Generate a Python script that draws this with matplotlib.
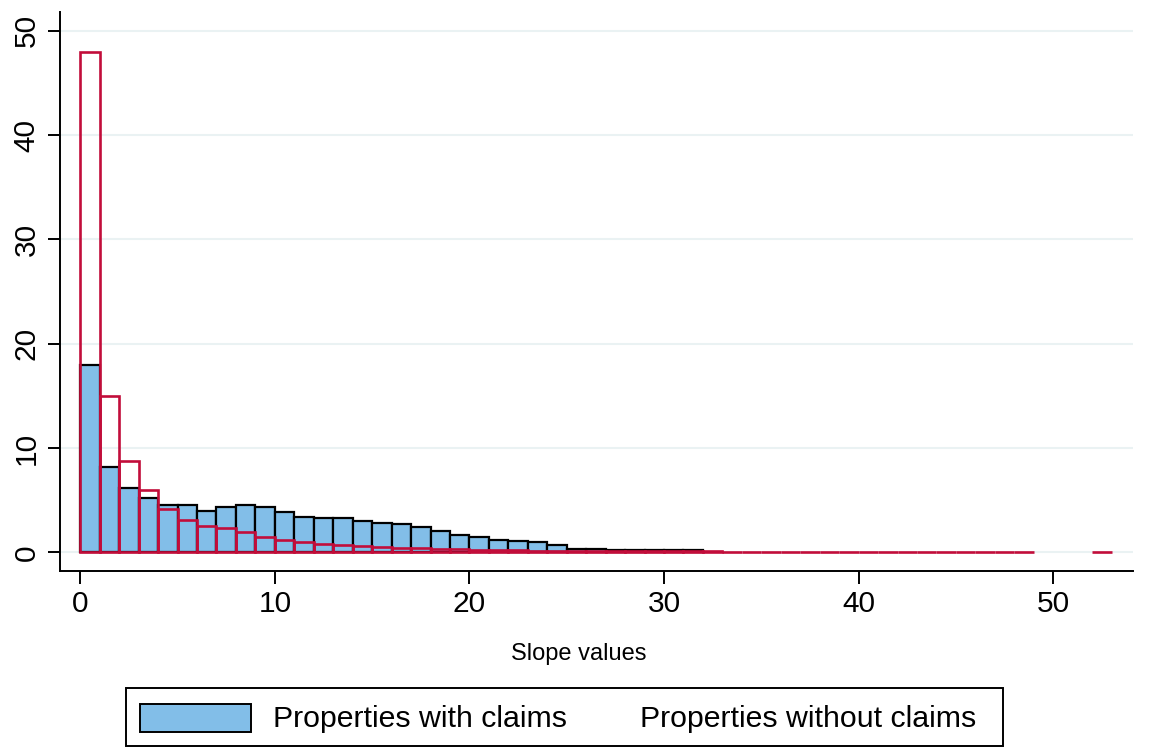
import numpy as np
import matplotlib
matplotlib.use("Agg")
import matplotlib.pyplot as plt
from matplotlib.patches import Rectangle

plt.rcParams['font.family'] = ['Liberation Sans', 'DejaVu Sans']

# ---- data (percent of properties per slope bin, bin width 1) ----
claims_bins = list(range(0, 32))
claims_pct = [18.0, 8.2, 6.2, 5.2, 4.5, 4.5, 4.0, 4.3, 4.5, 4.3,
              3.85, 3.38, 3.32, 3.26, 3.03, 2.8, 2.7, 2.46, 2.05, 1.7,
              1.45, 1.2, 1.1, 0.95, 0.75, 0.32, 0.3, 0.25, 0.25, 0.25,
              0.18, 0.18]

noclaims_bins = list(range(0, 49)) + [52]
noclaims_pct = [48.0, 15.0, 8.78, 5.97, 4.12, 3.07, 2.55, 2.33, 1.92, 1.5,
                1.18, 1.02, 0.82, 0.73, 0.63, 0.54, 0.44, 0.38, 0.33, 0.28,
                0.25, 0.22, 0.2, 0.17, 0.15, 0.12, 0.12, 0.1, 0.1, 0.1,
                0.09, 0.08, 0.08, 0.07, 0.07, 0.07, 0.06, 0.06, 0.06, 0.06,
                0.05, 0.05, 0.05, 0.05, 0.05, 0.05, 0.05, 0.05, 0.05, 0.05]

x_ticks = [0, 10, 20, 30, 40, 50]
y_ticks = [0, 10, 20, 30, 40, 50]
x_label = "Slope values"
legend_labels = ["Properties with claims", "Properties without claims"]

BLUE = "#82BEE8"
RED = "#C20D3A"
GRID = "#EAF2F3"

fig = plt.figure(figsize=(11.54, 7.56), dpi=100)
ax = fig.add_axes([60/1154, 1 - 571/756, (1133-60)/1154, (571-12)/756])

ax.bar(claims_bins, claims_pct, width=1.0, align='edge', color=BLUE,
       edgecolor='black', linewidth=1.6, zorder=2)
ax.bar(noclaims_bins, noclaims_pct, width=1.0, align='edge', fill=False,
       edgecolor=RED, linewidth=1.9, zorder=3)

ax.set_xlim(-1.04, 54.1)
ax.set_ylim(-1.79, 51.8)
ax.set_xticks(x_ticks)
ax.set_yticks(y_ticks)
ax.yaxis.grid(True, color=GRID, linewidth=1.5, zorder=0)
ax.set_axisbelow(True)

for s in ['top', 'right']:
    ax.spines[s].set_visible(False)
for s in ['left', 'bottom']:
    ax.spines[s].set_linewidth(1.4)
    ax.spines[s].set_color('black')

ax.tick_params(axis='both', length=9, width=1.4, color='black',
               labelsize=21.5, direction='out')
ax.tick_params(axis='x', pad=5)
ax.tick_params(axis='y', pad=5)
for lab in ax.get_yticklabels():
    lab.set_rotation(90)
    lab.set_va('center')

ax.set_xlabel(x_label, fontsize=17, labelpad=19)
ax.xaxis.set_label_coords((579 - 60) / 1073, -(643 - 571) / 559)
ax.xaxis.label.set_va('top')

# ---- legend (drawn manually to match layout) ----
W, H = 1154, 756
def fx(px):
    return px / W
def fy(py):
    return 1 - py / H

fig.patches.append(Rectangle((fx(126), fy(746)), fx(1003) - fx(126), fy(688) - fy(746),
                             transform=fig.transFigure, fill=False,
                             edgecolor='black', linewidth=1.4))
fig.patches.append(Rectangle((fx(140), fy(732)), fx(251) - fx(140), fy(704) - fy(732),
                             transform=fig.transFigure, facecolor=BLUE,
                             edgecolor='black', linewidth=1.4))
fig.text(fx(273), fy(719), legend_labels[0], fontsize=21.8, va='center', ha='left')
fig.text(fx(640), fy(719), legend_labels[1], fontsize=21.8, va='center', ha='left')

fig.savefig("out.png", dpi=100)
